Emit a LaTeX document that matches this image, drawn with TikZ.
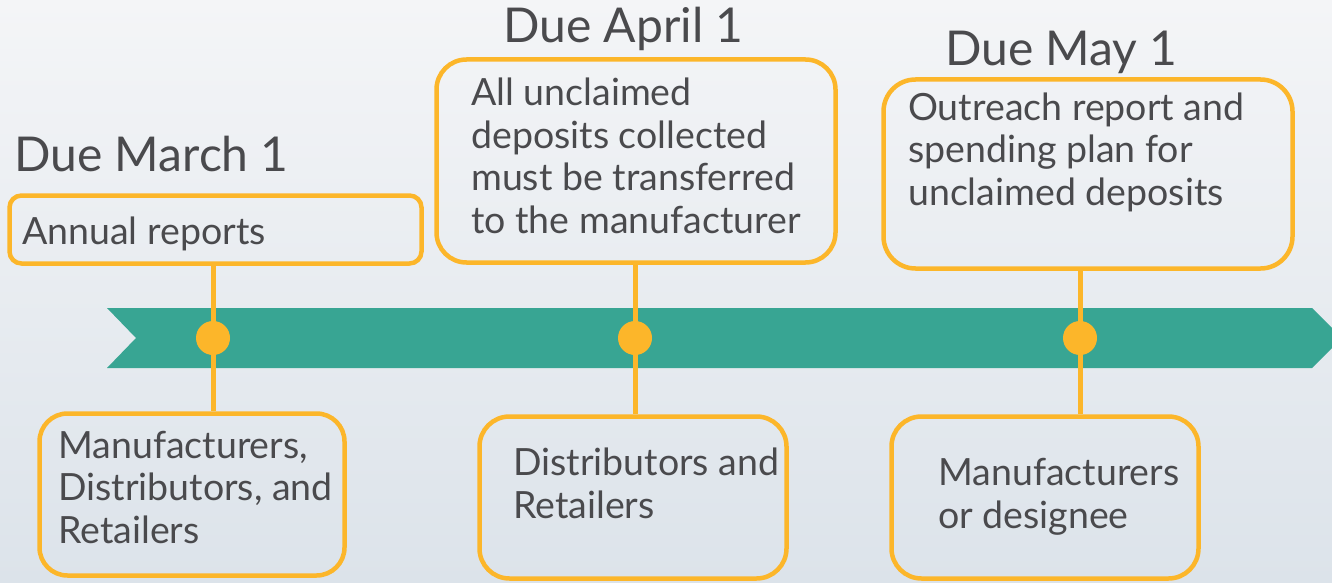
\documentclass[tikz,border=0pt]{standalone}
\usepackage{fontspec}
\setmainfont{Lato}
\definecolor{teal1}{HTML}{38A593}
\definecolor{gold1}{HTML}{FCB62A}
\definecolor{ink}{HTML}{4A4A4D}
\definecolor{bgtop}{HTML}{F4F5F7}
\definecolor{bgbot}{HTML}{DCE3EA}
\tikzset{
  card/.style={draw=gold1, line width=4.5pt, rectangle, inner sep=0pt},
  conn/.style={draw=gold1, line width=5pt},
  dotc/.style={circle, fill=gold1, minimum size=34pt, inner sep=0pt},
  head/.style={anchor=base west, inner sep=0pt, text=ink, font=\fontsize{48}{52}\selectfont},
  body/.style={anchor=base west, inner sep=0pt, text=ink, align=left, font=\fontsize{37.5}{42.5}\selectfont},
}
\begin{document}
\begin{tikzpicture}[x=1pt,y=-1pt]
\useasboundingbox (0,0) rectangle (1332,583);
\clip (0,0) rectangle (1332,583);
\shade[top color=bgtop, bottom color=bgbot] (0,0) rectangle (1332,583);
% banner
\fill[teal1] (107,308) -- (1312,308) -- (1342,338) -- (1312,368) -- (107,368) -- (136,338) -- cycle;
% cards
\node[card, rounded corners=12pt, minimum width=412pt, minimum height=68pt] (b1t) at (215.5,229.5) {};
\node[card, rounded corners=30pt, minimum width=399pt, minimum height=203pt] (b2t) at (636,161) {};
\node[card, rounded corners=32pt, minimum width=409pt, minimum height=189pt] (b3t) at (1088,174) {};
\node[card, rounded corners=28pt, minimum width=305pt, minimum height=162pt] (b1b) at (192,494.5) {};
\node[card, rounded corners=30pt, minimum width=307pt, minimum height=162pt] (b2b) at (633,497.5) {};
\node[card, rounded corners=30pt, minimum width=307pt, minimum height=162pt] (b3b) at (1045,497.5) {};
% dots
\coordinate (d1) at (213,338);
\coordinate (d2) at (635,338);
\coordinate (d3) at (1080,338);
% connectors
\draw[conn] (b1t.south -| d1) -- (b1b.north -| d1);
\draw[conn] (b2t.south -| d2) -- (b2b.north -| d2);
\draw[conn] (b3t.south -| d3) -- (b3b.north -| d3);
\node[dotc] (p1) at (d1) {};
\node[dotc] (p2) at (d2) {};
\node[dotc] (p3) at (d3) {};
% headings
\node[head] (h1) at (14,171) {Due March 1};
\node[head] (h2) at (503,43) {Due April 1};
\node[head] (h3) at (945,66) {Due May 1};
% texts (anchored at the baseline of the last line)
\node[body] (t1t) at (22,244) {Annual reports};
\node[body] (t2t) at (471,233) {All unclaimed\\deposits collected\\must be transferred\\to the manufacturer};
\node[body] (t3t) at (908,205) {Outreach report and\\spending plan for\\unclaimed deposits};
\node[body] (t1b) at (58,543) {Manufacturers,\\Distributors, and\\Retailers};
\node[body] (t2b) at (513,518) {Distributors and\\Retailers};
\node[body] (t3b) at (938,528) {Manufacturers\\or designee};
\end{tikzpicture}
\end{document}
